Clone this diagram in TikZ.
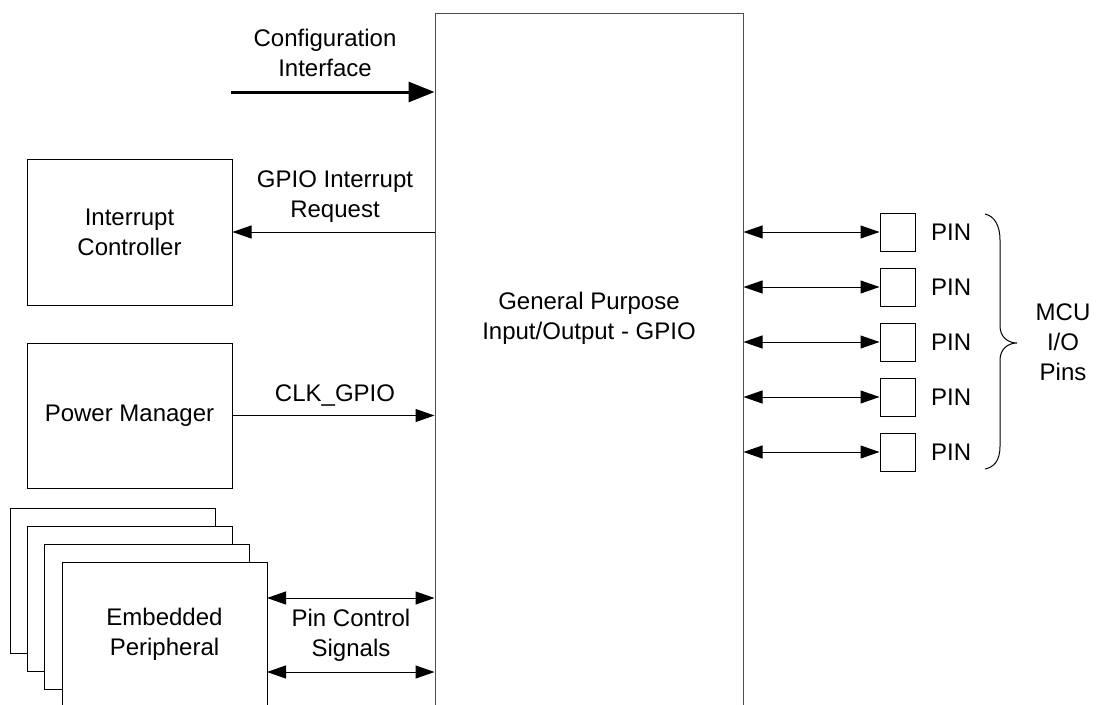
\documentclass[tikz,border=0pt]{standalone}
\usepackage{fontspec}
\setmainfont{Liberation Sans}
\usetikzlibrary{arrows.meta}
\begin{document}
\begin{tikzpicture}[x=1pt,y=-1pt,
  txt/.style={align=center,font=\fontsize{24}{30}\selectfont,inner sep=0pt},
  box/.style={draw=black,line width=1pt,fill=white,minimum width=205pt,minimum height=145pt,inner sep=0pt,align=center,font=\fontsize{24}{30}\selectfont},
  pinbox/.style={draw=black,line width=1pt,minimum width=35pt,minimum height=38pt,inner sep=0pt},
  arr/.style={line width=1pt,-{Triangle[length=19pt,width=13pt]}},
  biarr/.style={line width=1pt,{Triangle[length=19pt,width=13pt]}-{Triangle[length=19pt,width=13pt]}},
  thickarr/.style={line width=3pt,-{Triangle[length=26pt,width=20pt]}}
]
\useasboundingbox (0,0) rectangle (1097,704);
\clip (0,0) rectangle (1097,704);
\fill[white] (0,0) rectangle (1097,704);

% GPIO block
\node[draw=black!70,line width=1pt,minimum width=308pt,minimum height=707pt,inner sep=0pt] (gpio) at (589,366.5) {};
\node[txt] (gpiotxt) at (589,318) {General Purpose\\Input/Output - GPIO};

% left blocks
\node[box,minimum height=146pt] (ic) at (129.5,232) {Interrupt\\Controller};
\node[box,minimum height=145pt] (pm) at (129.5,415.5) {Power Manager};

\node[box] (ep1) at (112.5,580.5) {};
\node[box] (ep2) at (129.5,599) {};
\node[box] (ep3) at (146.5,617) {};
\node[box] (ep4) at (164.5,634.5) {Embedded\\Peripheral};

% configuration interface
\coordinate (cfgstart) at (231,92);
\draw[thickarr] (cfgstart) -- (cfgstart -| gpio.west);
\node[txt] (cfglbl) at (325,53) {Configuration\\Interface};

% interrupt request
\draw[arr] (gpio.west |- ic) -- (ic.east);
\node[txt] (irqlbl) at (335,197) {GPIO Interrupt\\Request};

% clock
\draw[arr] (pm.east) -- (pm.east -| gpio.west);
\node[txt] (clklbl) at (335,396) {CLK\_GPIO};

% pin control signals
\coordinate (pc1) at (267,598);
\coordinate (pc2) at (267,672);
\draw[biarr] (pc1) -- (pc1 -| gpio.west);
\draw[biarr] (pc2) -- (pc2 -| gpio.west);
\node[txt] (pclbl) at (351,635) {Pin Control\\Signals};

% pins
\foreach \i in {1,...,5}{
  \node[pinbox] (pin\i) at (897.5,{232+55*(\i-1)}) {};
  \node[txt,anchor=west] (pinlbl\i) at (931,{232+55*(\i-1)}) {PIN};
  \draw[biarr] (gpio.east |- pin\i) -- (pin\i.west);
}

% brace
\draw[line width=1pt] (985,214) .. controls (994,216) and (1000,225) .. (1000,240)
  -- (1000,326) .. controls (1000,337) and (1008,343) .. (1017,343)
  .. controls (1008,343) and (1000,349) .. (1000,360)
  -- (1000,446) .. controls (1000,461) and (994,467) .. (985,469);
\node[txt] (mculbl) at (1063,342) {MCU\\I/O\\Pins};
\end{tikzpicture}
\end{document}
